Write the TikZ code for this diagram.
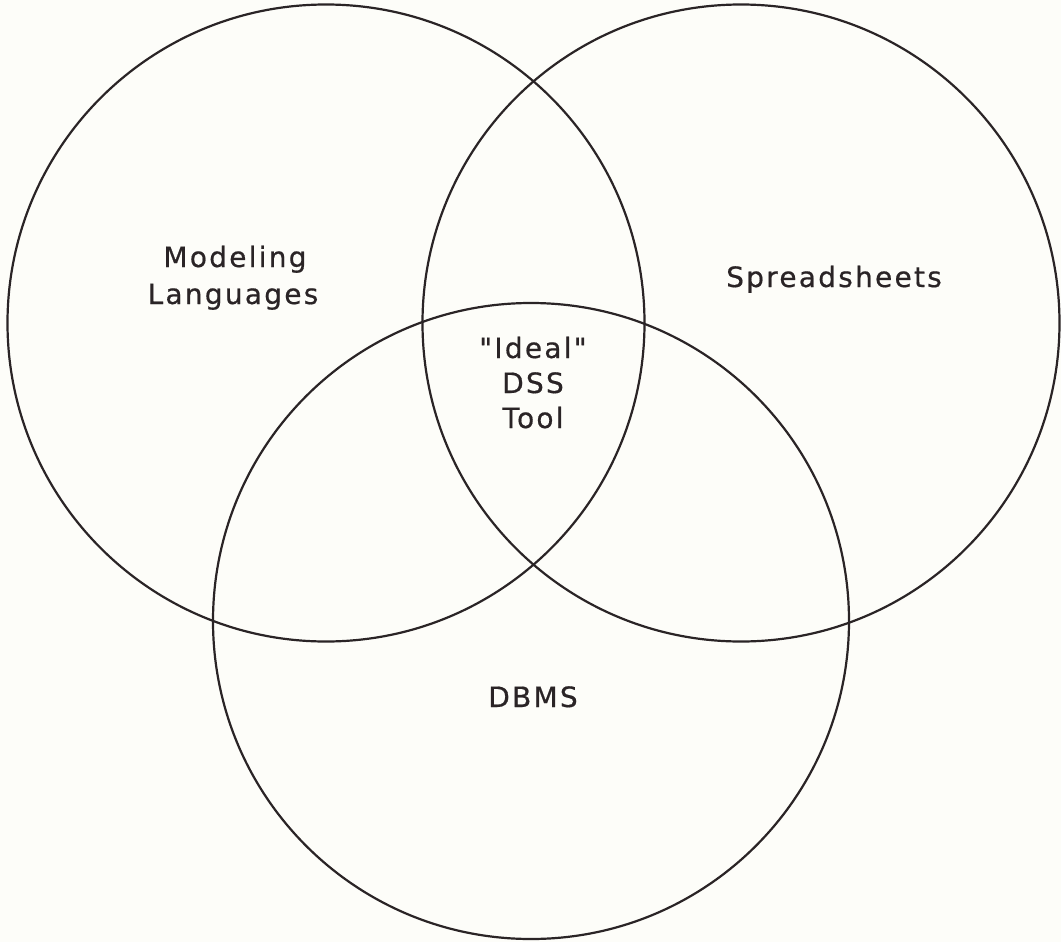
\documentclass[tikz,border=0pt]{standalone}
\usepackage{fontspec}
\newfontfamily\labfont[LetterSpace=8,FakeBold=0.6]{DejaVu Sans}
\definecolor{ink}{RGB}{42,36,38}
\definecolor{paper}{RGB}{253,253,249}
\begin{document}
\begin{tikzpicture}[x=1pt,y=-1pt,
  ring/.style={draw=ink,line width=2.2pt},
  lab/.style={anchor=base,inner sep=0pt,text=ink,font=\labfont\fontsize{28}{32}\selectfont}]
\fill[paper] (0,0) rectangle (1061,942);
\useasboundingbox (0,0) rectangle (1061,942);
\draw[ring] (326,323) circle[radius=318.5];
\draw[ring] (741,323) circle[radius=318.5];
\draw[ring] (531,621) circle[radius=318];
\node[lab] (m1) at (235,267) {Modeling};
\node[lab] (m2) at (233,304) {Languages};
\node[lab] (sp) at (834,287) {Spreadsheets};
\node[lab] (i1) at (533,358) {"Ideal"};
\node[lab] (i2) at (533,393) {DSS};
\node[lab] (i3) at (533,428) {Tool};
\node[lab] (db) at (533,707) {DBMS};
\end{tikzpicture}
\end{document}
